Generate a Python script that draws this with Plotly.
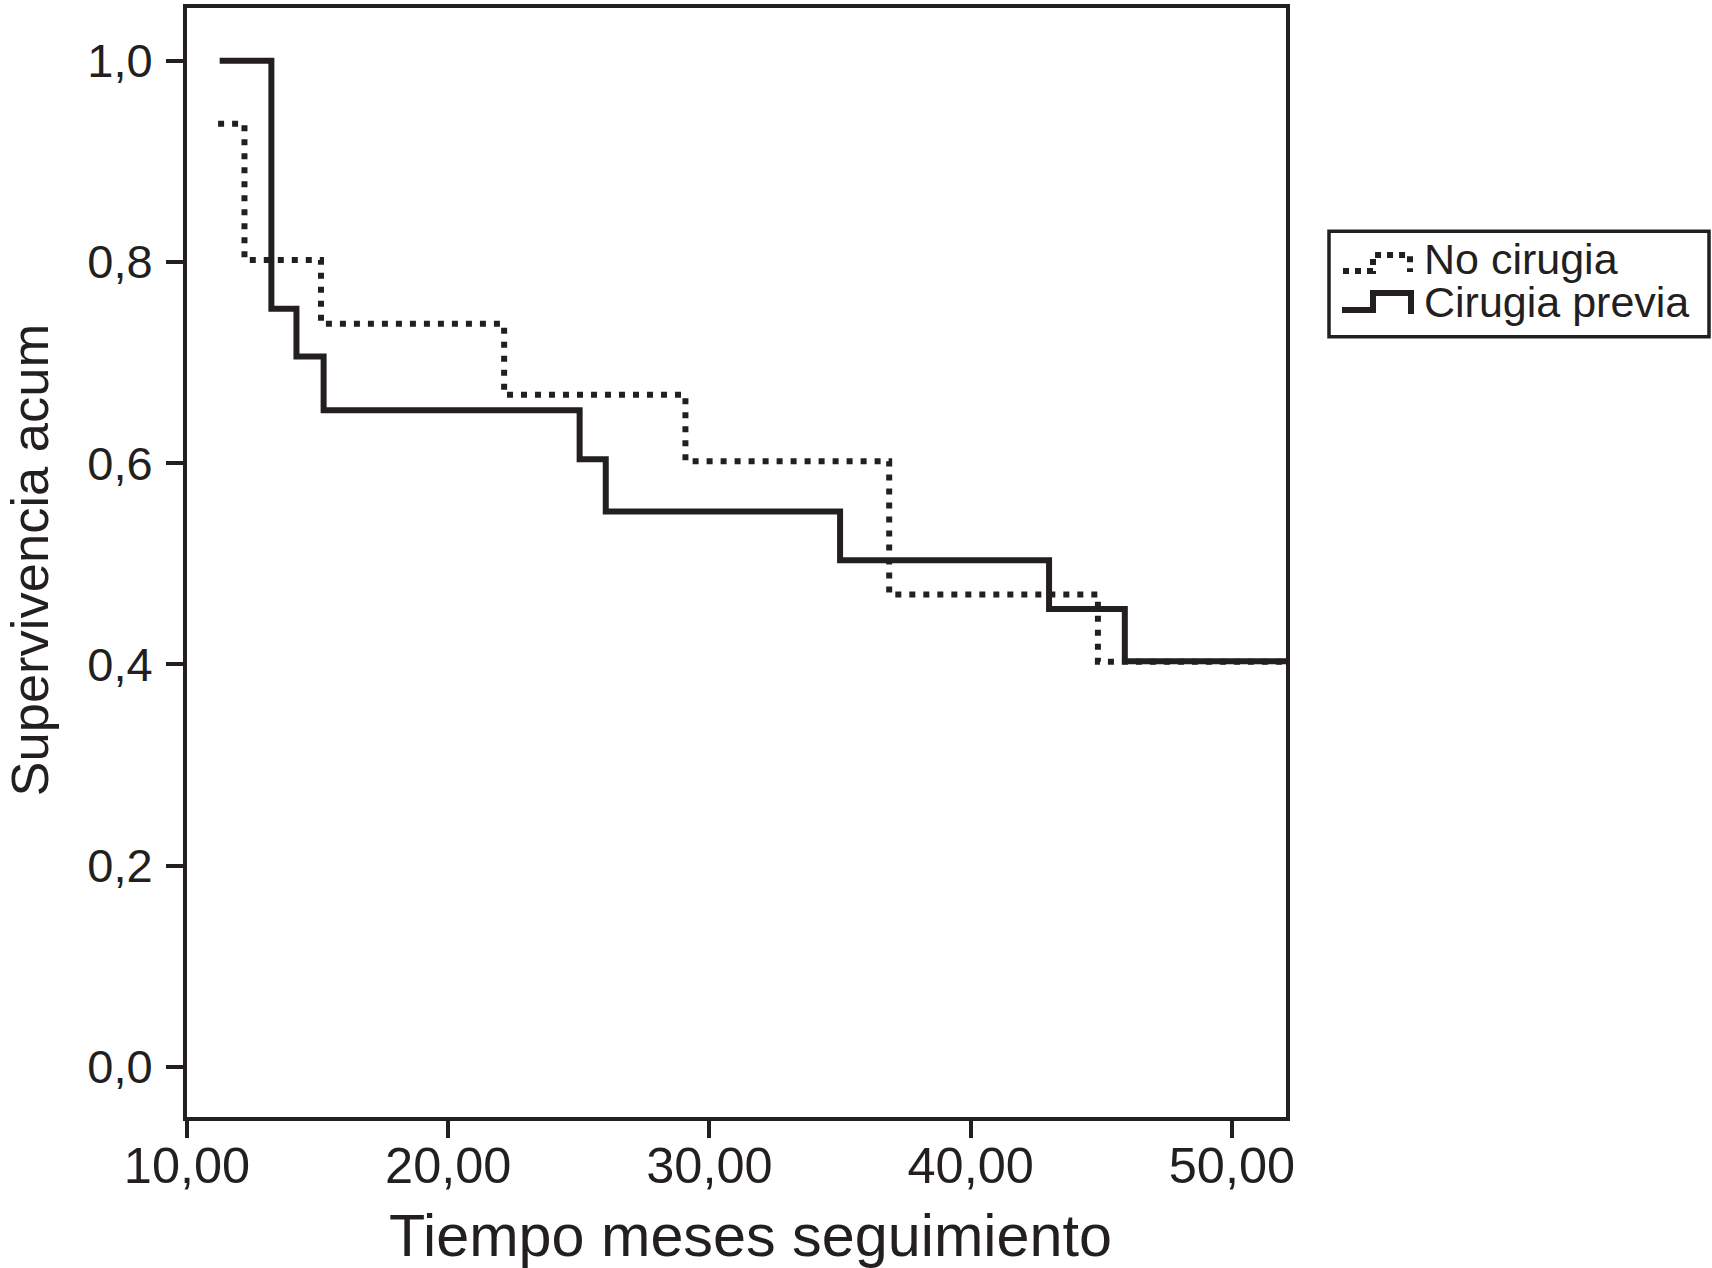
import plotly.graph_objects as go

# ---- data ----
t_no_cirugia = [11.19, 12.20, 15.13, 22.14, 29.08, 36.88, 44.87, 52.07]
s_no_cirugia = [0.9375, 0.802, 0.7385, 0.668, 0.602, 0.4695, 0.4025, 0.4025]

t_cirugia_previa = [11.25, 13.23, 14.19, 15.23, 25.03, 26.03, 35.00, 43.00, 45.90, 52.07]
s_cirugia_previa = [1.0, 0.7535, 0.706, 0.6525, 0.604, 0.552, 0.5035, 0.455, 0.403, 0.403]

x_tickvals = [10, 20, 30, 40, 50]
x_ticktext = ["10,00", "20,00", "30,00", "40,00", "50,00"]
y_tickvals = [0.0, 0.2, 0.4, 0.6, 0.8, 1.0]
y_ticktext = ["0,0", "0,2", "0,4", "0,6", "0,8", "1,0"]

legend_names = ["No cirugia", "Cirugia previa"]
x_title = "Tiempo meses seguimiento"
y_title = "Supervivencia acum"

# ---- styling ----
INK = "#231f20"
FONT = "Liberation Sans, Arial, Helvetica, sans-serif"
W, H = 1712, 1268
ML, MR, MT, MB = 187, 426, 4, 151
PW, PH = W - ML - MR, H - MT - MB


def px_x(px):
    return (px - ML) / PW


def px_y(py):
    return (H - MB - py) / PH


fig = go.Figure()
fig.add_trace(go.Scatter(
    x=t_no_cirugia, y=s_no_cirugia, mode="lines", name=legend_names[0],
    line=dict(shape="hv", color=INK, width=6, dash="6px,8px"), showlegend=False))
fig.add_trace(go.Scatter(
    x=t_cirugia_previa, y=s_cirugia_previa, mode="lines", name=legend_names[1],
    line=dict(shape="hv", color=INK, width=6), showlegend=False))

axis_common = dict(
    showline=True, mirror=True, linecolor=INK, linewidth=4,
    ticks="outside", ticklen=17, tickwidth=4, tickcolor=INK,
    showgrid=False, zeroline=False,
)
fig.update_xaxes(range=[10, 52.07], tickvals=x_tickvals, ticktext=x_ticktext,
                 tickfont=dict(family=FONT, size=50.5, color=INK),
                 ticklabelstandoff=-16, **axis_common)
fig.update_yaxes(range=[-0.05, 1.0525], tickvals=y_tickvals, ticktext=y_ticktext,
                 tickfont=dict(family=FONT, size=47, color=INK),
                 ticklabelstandoff=4, **axis_common)

annotations = [
    dict(text=x_title, xref="paper", yref="paper", x=px_x(750), y=px_y(1236),
         xanchor="center", yanchor="middle", showarrow=False,
         font=dict(family=FONT, size=59.3, color=INK)),
    dict(text=y_title, xref="paper", yref="paper", x=px_x(29.5), y=px_y(558),
         xanchor="center", yanchor="middle", showarrow=False, textangle=-90,
         font=dict(family=FONT, size=52.5, color=INK)),
    dict(text=legend_names[0], xref="paper", yref="paper", x=px_x(1423), y=px_y(256),
         xanchor="left", yanchor="middle", showarrow=False, borderpad=0,
         font=dict(family=FONT, size=43, color=INK)),
    dict(text=legend_names[1], xref="paper", yref="paper", x=px_x(1423), y=px_y(299),
         xanchor="left", yanchor="middle", showarrow=False, borderpad=0,
         font=dict(family=FONT, size=43, color=INK)),
]

def pth(points):
    return "M" + " L".join(f"{px_x(a):.5f},{px_y(b):.5f}" for a, b in points)

shapes = [
    # legend frame
    dict(type="rect", xref="paper", yref="paper",
         x0=px_x(1329), x1=px_x(1709), y0=px_y(228), y1=px_y(334),
         line=dict(color=INK, width=3.5), fillcolor="rgba(0,0,0,0)"),
    # legend icon: dotted step
    dict(type="path", xref="paper", yref="paper",
         path=pth([(1343, 268), (1373, 268), (1373, 252), (1410, 252), (1410, 269)]),
         line=dict(color=INK, width=6, dash="6px,6px")),
    # legend icon: solid step
    dict(type="path", xref="paper", yref="paper",
         path=pth([(1342, 307), (1373, 307), (1373, 290), (1411, 290), (1411, 311)]),
         line=dict(color=INK, width=6)),
]

fig.update_layout(
    width=W, height=H,
    margin=dict(l=ML, r=MR, t=MT, b=MB, pad=0),
    paper_bgcolor="white", plot_bgcolor="white",
    font=dict(family=FONT, color=INK),
    annotations=annotations, shapes=shapes,
    showlegend=False,
)

fig.write_html(
    "out.html",
    config={"displayModeBar": False},
    post_script="document.body.style.margin='0px';document.body.style.overflow='hidden';",
)
